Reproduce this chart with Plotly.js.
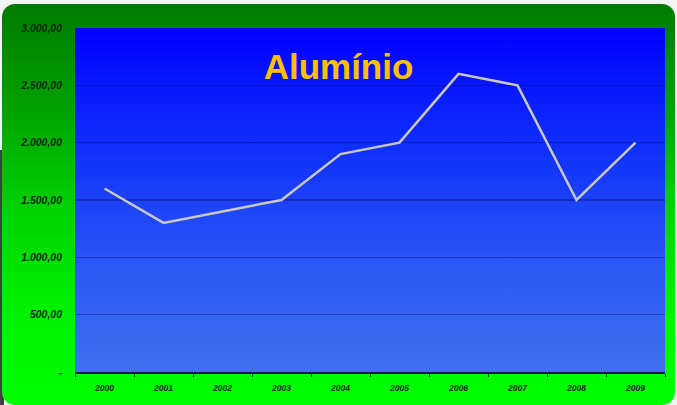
<!DOCTYPE html>
<html><head><meta charset="utf-8">
<script src="https://cdn.plot.ly/plotly-3.0.1.min.js"></script>
<style>
html,body{margin:0;padding:0;background:#f4f4f2;width:677px;height:405px;overflow:hidden;}
#edge{position:absolute;left:0;top:150px;width:4px;height:255px;background:#404040;}
#frame{position:absolute;left:2px;top:4px;width:673px;height:401px;border-radius:13px;
 background:linear-gradient(to bottom,#007a00 0%,#00a000 25%,#00d000 50%,#00f000 75%,#00ff00 100%);}
#plotbg{position:absolute;left:75px;top:28px;width:590px;height:344px;
 background:linear-gradient(to bottom,#0000ff 0%,#1030fa 35%,#2c58f6 70%,#4070ee 100%);}
#chart{position:absolute;left:0;top:0;width:677px;height:405px;}
</style></head>
<body>
<div id="edge"></div>
<div id="frame"></div>
<div id="plotbg"></div>
<div id="chart"></div>
<script>
const years = ["2000","2001","2002","2003","2004","2005","2006","2007","2008","2009"];
const values = [1600,1300,1400,1500,1900,2000,2600,2500,1500,2000];
const yTickVals = [0,500,1000,1500,2000,2500,3000];
const yTickText = ["-","500,00","1.000,00","1.500,00","2.000,00","2.500,00","3.000,00"];
const chartTitle = "Alumínio";

Plotly.newPlot("chart",[{
  x: years, y: values, type:"scatter", mode:"lines",
  line:{color:"#c8c8c0", width:2.5}, hoverinfo:"skip"
}],{
  width:677, height:405,
  margin:{l:75,r:12,t:28,b:33},
  paper_bgcolor:"rgba(0,0,0,0)", plot_bgcolor:"rgba(0,0,0,0)",
  showlegend:false,
  title:{text:"<b>"+chartTitle+"</b>", font:{family:"Liberation Sans, Arial", size:35, color:"#ffc000"},
    x:0.5, xanchor:"center", y:0.835, yanchor:"middle"},
  xaxis:{type:"category", range:[-0.5,9.5], showgrid:false, zeroline:false,
    showline:true, linecolor:"#0a1a60", linewidth:1.5,
    ticks:"outside", ticklen:3, tickcolor:"#103050", tickson:"boundaries",
    ticklabelstandoff:7,
    tickfont:{family:"Liberation Sans, Arial", size:8.5, color:"#102a10", weight:"bold", style:"italic"},
    fixedrange:true},
  yaxis:{range:[0,3000], tickvals:yTickVals, ticktext:yTickText,
    showgrid:true, gridcolor:"rgba(0,0,70,0.32)", gridwidth:1.5, zeroline:false,
    showline:false, ticks:"", ticklabelstandoff:12,
    tickfont:{family:"Liberation Sans, Arial", size:10.5, color:"#102a10", weight:"bold", style:"italic"},
    fixedrange:true}
},{staticPlot:true});
</script>
</body></html>
